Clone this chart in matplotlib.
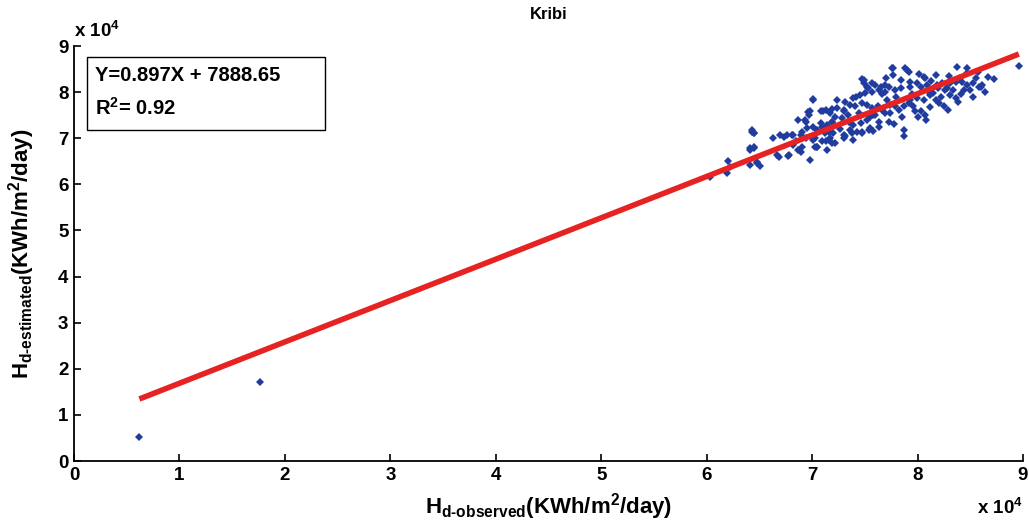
import matplotlib.pyplot as plt
import numpy as np
from matplotlib.patches import Rectangle
from matplotlib.ticker import FuncFormatter, MultipleLocator

plt.rcParams['font.family'] = ['Liberation Sans', 'DejaVu Sans']
plt.rcParams['font.weight'] = 'bold'
plt.rcParams['mathtext.fontset'] = 'custom'
plt.rcParams['mathtext.rm'] = 'Liberation Sans:bold'
plt.rcParams['mathtext.bf'] = 'Liberation Sans:bold'
plt.rcParams['mathtext.it'] = 'Liberation Sans:bold'

station = 'Kribi'

# regression fit of estimated vs observed diffuse radiation
slope = 0.897
intercept = 7888.65
r2 = 0.92

# observed / estimated pairs, in units of 1e4
obs = [0.62, 1.76,
       6.03, 6.19, 6.20, 6.41, 6.43, 6.45, 6.41, 6.45, 6.48, 6.51, 6.41, 6.45, 6.48, 6.43, 6.45, 6.22,
       6.63, 6.70, 6.67, 6.69, 6.76, 6.82, 6.77, 6.87, 6.93, 6.89, 6.94, 6.87, 6.98, 6.96, 6.97, 6.78,
       6.89, 6.82, 6.90, 6.90, 6.95, 6.81, 6.94, 6.73, 6.85,
       7.01, 7.01, 7.03, 7.01, 7.05, 7.14, 7.10, 7.13, 7.19, 7.08, 7.14, 7.19, 7.01, 7.12, 7.17, 7.13,
       7.19, 7.01, 6.98, 7.08, 7.17, 7.22, 7.19, 7.05, 7.09, 7.16, 7.20, 7.03, 7.09, 7.16, 7.22, 7.05,
       7.24, 7.28, 7.30, 7.30, 7.26, 7.24,
       7.31, 7.39, 7.35, 7.39, 7.46, 7.52, 7.55, 7.30, 7.36, 7.41, 7.47, 7.52, 7.57, 7.36, 7.43, 7.47,
       7.30, 7.39, 7.55, 7.31, 7.38, 7.47, 7.54, 7.58, 7.47, 7.49, 7.53, 7.57, 7.57, 7.60, 7.49, 7.52,
       7.42, 7.45, 7.50, 7.34, 7.44, 7.58,
       7.60, 7.63, 7.62, 7.65, 7.69, 7.73, 7.63, 7.69, 7.79, 7.84, 7.76, 7.90, 7.92, 7.77, 7.84, 7.66,
       7.69, 7.74, 7.79, 7.82, 7.73, 7.87, 7.74, 7.87, 7.87, 7.63, 7.71, 7.80, 7.66, 7.85, 7.78, 7.70,
       7.88, 7.77,
       7.93, 7.93, 7.99, 8.03, 8.09, 8.18, 8.06, 8.07, 8.17, 8.12, 8.17, 8.20, 8.06, 7.99, 7.93, 7.92,
       7.96, 8.03, 8.07, 8.08, 8.00, 7.95, 8.10, 8.15, 8.13, 8.01, 7.98, 8.12, 8.19,
       8.23, 8.31, 8.36, 8.42, 8.47, 8.30, 8.26, 8.31, 8.36, 8.38, 8.37, 8.47, 8.28, 8.22, 8.25, 8.34,
       8.41, 8.44, 8.47, 8.40, 8.29,
       8.53, 8.58, 8.61, 8.67, 8.53, 8.57, 8.60, 8.50, 8.55, 8.64, 8.72, 8.96]
est = [0.53, 1.72,
       6.16, 6.25, 6.50, 6.42, 7.18, 7.12, 6.75, 6.79, 6.49, 6.40, 6.78, 6.82, 6.46, 7.14, 7.11, 6.38,
       7.00, 7.07, 6.64, 6.59, 7.07, 7.07, 6.61, 7.40, 7.40, 7.07, 7.00, 6.75, 6.53, 7.57, 7.51, 6.64,
       6.71, 6.85, 6.82, 7.14, 7.22, 7.07, 7.36, 7.03, 6.95,
       7.85, 6.96, 6.82, 7.25, 6.82, 6.75, 7.58, 7.61, 7.63, 7.33, 7.29, 7.36, 7.00, 7.11, 7.00, 6.93,
       6.89, 7.83, 7.58, 7.58, 7.54, 7.47, 7.36, 7.18, 7.25, 7.14, 7.11, 7.00, 6.93, 6.96, 6.89, 6.82,
       7.83, 7.43, 7.07, 7.61, 7.20, 7.66,
       7.79, 7.87, 7.36, 7.29, 7.33, 7.40, 7.47, 7.58, 7.72, 7.69, 7.76, 7.72, 7.65, 7.18, 7.14, 7.11,
       7.00, 6.96, 7.22, 7.04, 7.11, 7.14, 7.18, 7.16, 8.28, 8.19, 8.08, 8.01, 8.19, 8.16, 8.26, 8.12,
       7.90, 7.94, 7.98, 7.50, 7.55, 7.50,
       7.51, 7.36, 7.69, 8.12, 8.16, 8.12, 8.05, 8.01, 8.05, 8.08, 8.52, 8.48, 8.44, 8.37, 8.26, 7.61,
       7.54, 7.72, 7.69, 7.61, 7.36, 7.18, 7.54, 7.69, 7.04, 7.25, 7.83, 7.90, 7.95, 7.45, 7.30, 8.30,
       8.52, 8.52,
       8.23, 8.12, 8.19, 8.12, 8.16, 8.16, 8.33, 8.30, 8.37, 7.94, 7.83, 7.76, 7.83, 7.87, 7.83, 7.76,
       7.69, 7.58, 7.51, 7.39, 7.45, 7.95, 8.02, 7.98, 8.25, 8.40, 7.60, 7.68, 8.08,
       8.19, 8.19, 8.23, 8.23, 8.16, 8.35, 8.05, 7.94, 7.87, 7.79, 8.55, 8.52, 8.10, 7.90, 7.70, 8.05,
       7.95, 8.05, 8.41, 8.30, 7.62,
       8.19, 8.12, 8.16, 8.33, 7.90, 8.44, 8.12, 8.05, 8.30, 8.00, 8.28, 8.57]

x = np.array(obs) * 1e4
y = np.array(est) * 1e4

fig = plt.figure(figsize=(10.29, 5.27), dpi=100)
ax = fig.add_axes([0.0719, 0.1252, 0.9223, 0.7875])

ax.plot(x, y, 'D', color='#1f3c9e', markersize=3.6, markeredgewidth=0)

xfit = np.array([x.min(), x.max()])
ax.plot(xfit, slope * xfit + intercept, color='#e62222', linewidth=4.0, solid_capstyle='butt')

ax.set_xlim(0, 9e4)
ax.set_ylim(0, 9e4)
ax.xaxis.set_major_locator(MultipleLocator(1e4))
ax.yaxis.set_major_locator(MultipleLocator(1e4))
fmt = FuncFormatter(lambda v, p: '%d' % round(v / 1e4))
ax.xaxis.set_major_formatter(fmt)
ax.yaxis.set_major_formatter(fmt)
ax.tick_params(direction='in', length=5, width=1.2, labelsize=13.5, pad=4)
for lab in ax.get_xticklabels() + ax.get_yticklabels():
    lab.set_fontweight('bold')

ax.spines['top'].set_visible(False)
ax.spines['right'].set_visible(False)
ax.spines['left'].set_linewidth(1.3)
ax.spines['bottom'].set_linewidth(1.3)

ax.set_xlabel(r'$\mathrm{H_{d\text{-}observed}}$(KWh/m$^{2}$/day)', fontsize=16, fontweight='bold')
ax.set_ylabel(r'$\mathrm{H_{d\text{-}estimated}}$(KWh/m$^{2}$/day)', fontsize=16, fontweight='bold')
ax.xaxis.set_label_coords(0.5, -0.072)
ax.yaxis.set_label_coords(-0.039, 0.5)
fig.text(0.533, 0.973, station, fontsize=12, fontweight='bold', ha='center', va='center')

# power-of-ten multipliers on both axes
ax.text(0.0, 1.012, r'x 10$^{4}$', transform=ax.transAxes, fontsize=13.5, fontweight='bold',
        ha='left', va='bottom')
ax.text(1.0, -0.09, r'x 10$^{4}$', transform=ax.transAxes, fontsize=13.5, fontweight='bold',
        ha='right', va='top')

# equation box
ax.add_patch(Rectangle((0.0137, 0.7976), 0.2508, 0.1759, transform=ax.transAxes,
                       facecolor='white', edgecolor='black', linewidth=1.0, zorder=5))
ax.text(0.0222, 0.928, 'Y=%.3fX + %.2f' % (slope, intercept), transform=ax.transAxes,
        fontsize=14.5, fontweight='bold', va='center', ha='left', zorder=6)
ax.text(0.0222, 0.850, r'R$^{2}$= %.2f' % r2, transform=ax.transAxes,
        fontsize=14.5, fontweight='bold', va='center', ha='left', zorder=6)

fig.savefig('out.png', dpi=100)
